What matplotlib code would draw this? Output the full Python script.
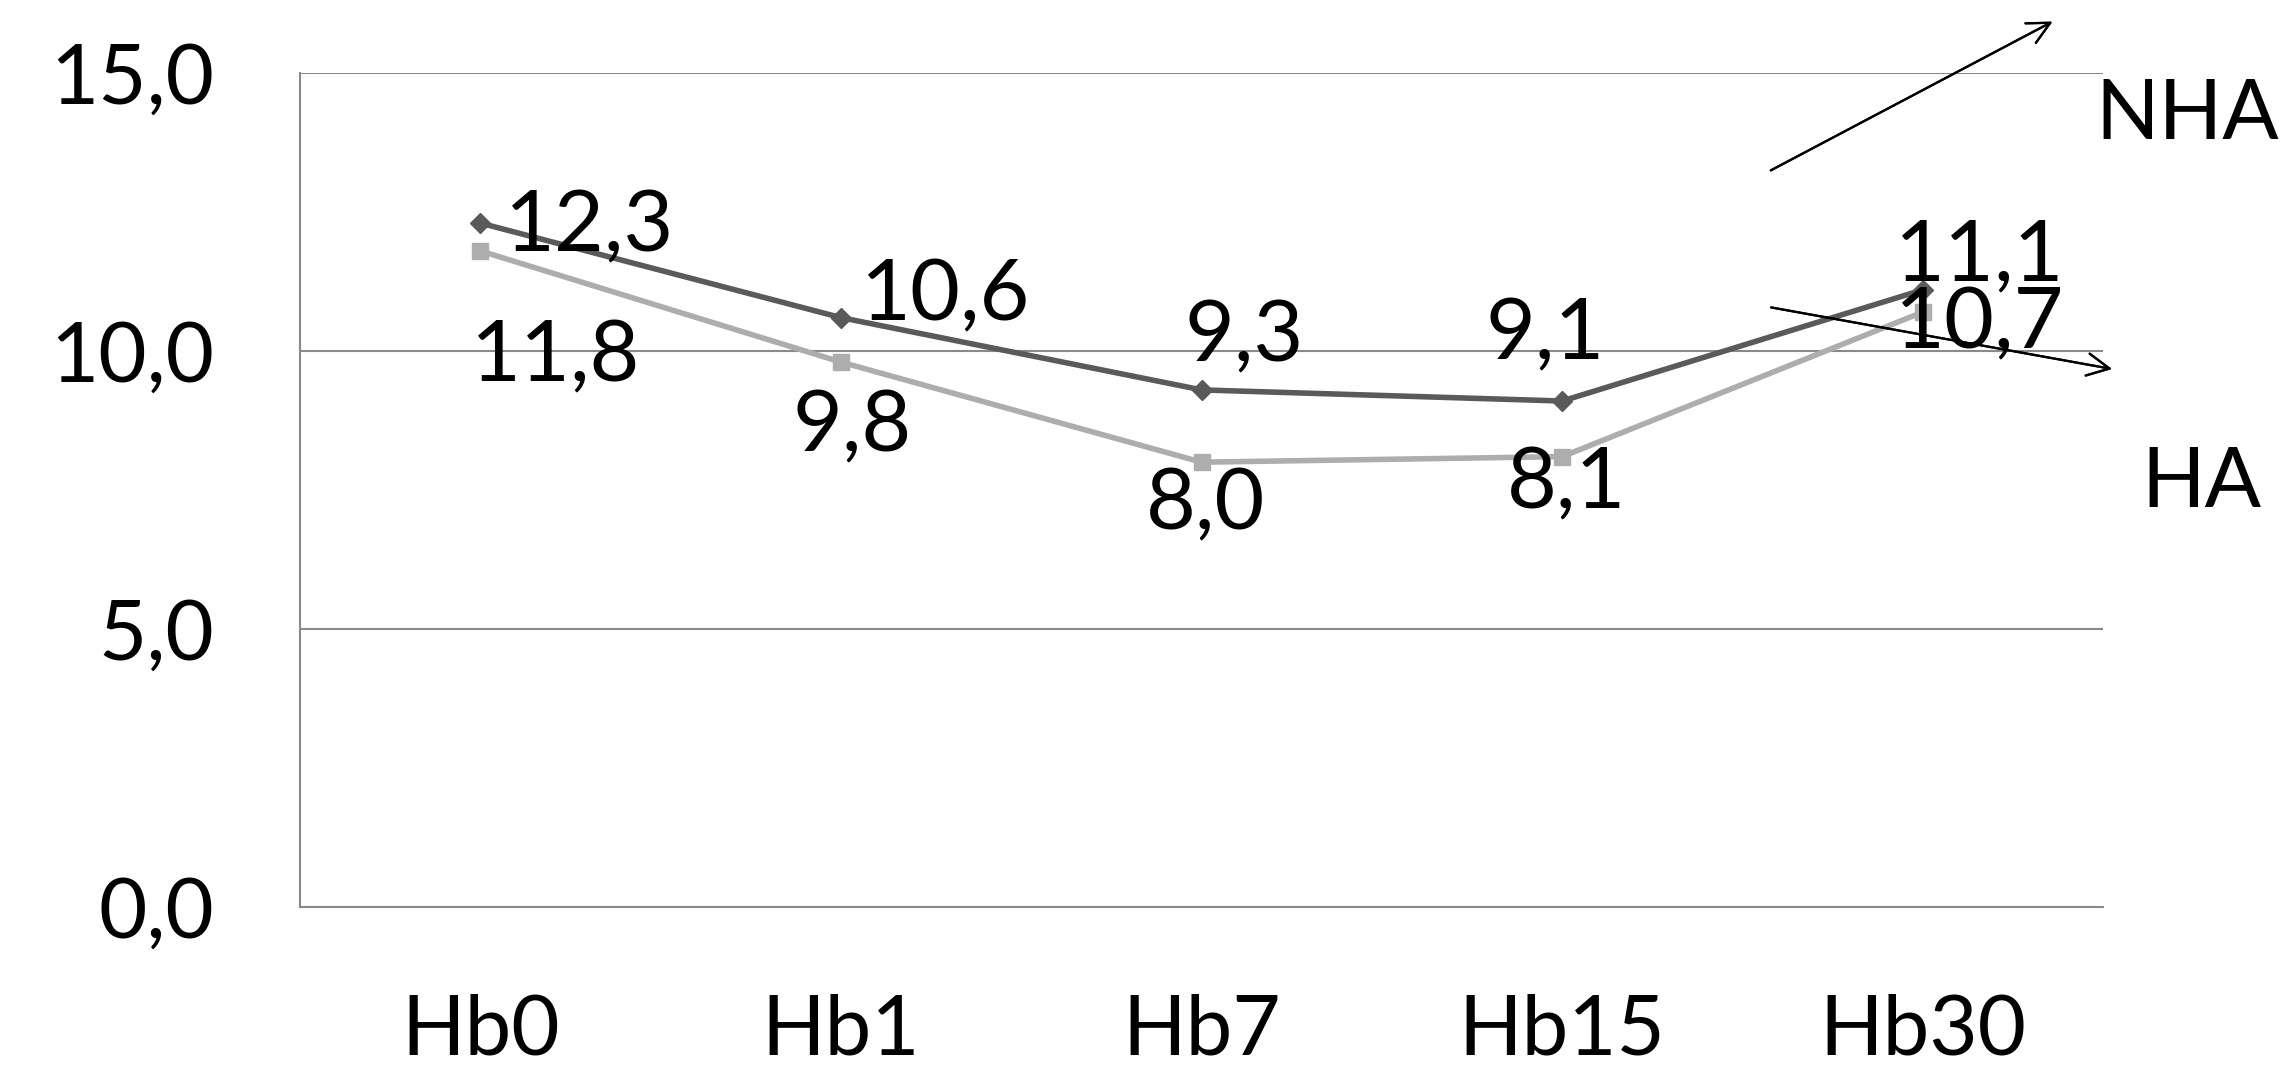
#!/usr/bin/env python3
"""Hb line chart: NHA vs HA series with data labels and arrow annotations."""

import matplotlib

matplotlib.use("Agg")
import matplotlib.pyplot as plt

CATEGORIES = ["Hb0", "Hb1", "Hb7", "Hb15", "Hb30"]
NHA_VALUES = [12.3, 10.6, 9.3, 9.1, 11.1]
HA_VALUES = [11.8, 9.8, 8.0, 8.1, 10.7]
Y_TICKS = [0.0, 5.0, 10.0, 15.0]

NHA_COLOR = "#5a5a5a"
HA_COLOR = "#adadad"
GRID_COLOR = "#8a8a8a"
FONT = ["Lato", "DejaVu Sans"]
FS = 60
LABEL_FS = 62

# label offsets in points, per series
NHA_OFFSETS = [(79, -3), (75, 15), (31, 38), (-12, 47), (41, 24)]
HA_OFFSETS = [(54, -77), (8, -47), (3, -31), (3, -20), (41, -9)]


def fmt(v: float) -> str:
    return f"{v:.1f}".replace(".", ",")


def main() -> None:
    plt.rcParams["font.family"] = FONT
    fig = plt.figure(figsize=(22.82, 10.75), dpi=100)
    ax = fig.add_axes([0.1315, 0.1563, 0.7901, 0.7758])

    x = list(range(len(CATEGORIES)))
    ax.plot(x, NHA_VALUES, color=NHA_COLOR, lw=4, marker="D", markersize=10,
            zorder=3)
    ax.plot(x, HA_VALUES, color=HA_COLOR, lw=4, marker="s", markersize=12,
            zorder=3)

    for xi, v, off in zip(x, NHA_VALUES, NHA_OFFSETS):
        ax.annotate(fmt(v), (xi, v), xytext=off, textcoords="offset points",
                    ha="center", va="center", fontsize=LABEL_FS, zorder=4)
    for xi, v, off in zip(x, HA_VALUES, HA_OFFSETS):
        ax.annotate(fmt(v), (xi, v), xytext=off, textcoords="offset points",
                    ha="center", va="center", fontsize=LABEL_FS, zorder=4)

    ax.set_xlim(-0.5, len(CATEGORIES) - 0.5)
    ax.set_ylim(0, 15)
    ax.set_yticks(Y_TICKS)
    ax.set_yticklabels([fmt(t) for t in Y_TICKS], fontsize=FS)
    ax.set_xticks(x)
    ax.set_xticklabels(CATEGORIES, fontsize=FS)
    ax.tick_params(axis="y", length=0, pad=62)
    ax.tick_params(axis="x", length=0, pad=62)
    ax.yaxis.grid(True, color=GRID_COLOR, lw=1.5)
    ax.set_axisbelow(True)
    for side in ("top", "right"):
        ax.spines[side].set_visible(False)
    for side in ("left", "bottom"):
        ax.spines[side].set_color(GRID_COLOR)
        ax.spines[side].set_linewidth(1.5)

    arrow = dict(arrowstyle="->", color="black", lw=1.6, mutation_scale=40)
    fig.add_artist(plt.annotate("", xy=(0.9005, 0.9811), xytext=(0.7749, 0.8403),
                                xycoords="figure fraction", arrowprops=arrow))
    fig.add_artist(plt.annotate("", xy=(0.9267, 0.6563), xytext=(0.7749, 0.7145),
                                xycoords="figure fraction", arrowprops=arrow))
    fig.text(0.9585, 0.8917, "NHA", ha="center", va="center", fontsize=FS)
    fig.text(0.9649, 0.5494, "HA", ha="center", va="center", fontsize=FS)

    fig.savefig("out.png", dpi=100)
    plt.close(fig)


if __name__ == "__main__":
    main()
